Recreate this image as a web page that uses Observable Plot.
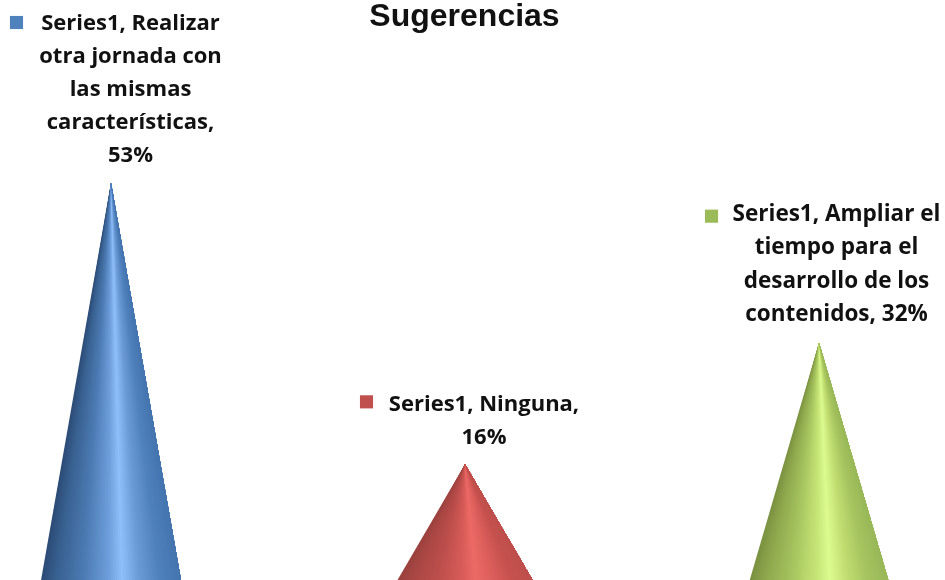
<!DOCTYPE html>
<html>
<head>
<meta charset="utf-8">
<script src="https://cdn.jsdelivr.net/npm/d3@7"></script>
<script src="https://cdn.jsdelivr.net/npm/@observablehq/plot@0.6"></script>
<style>
html,body{margin:0;padding:0;background:#fff;overflow:hidden}
svg{display:block;filter:blur(0.45px)}
</style>
</head>
<body>
<div id="chart"></div>
<script>
const title = "Sugerencias";
const seriesName = "Series1";
const categories = ["Realizar otra jornada con las mismas características", "Ninguna", "Ampliar el tiempo para el desarrollo de los contenidos"];
const values = [53, 16, 32];
const labels = [
  "Series1, Realizar\notra jornada con\nlas mismas\ncaracterísticas,\n53%",
  "Series1, Ninguna,\n16%",
  "Series1, Ampliar el\ntiempo para el\ndesarrollo de los\ncontenidos, 32%"
];
const markerColors = ["#4f81bd", "#c0504d", "#9bbb59"];
const shadeStops = [0, 0.1, 0.3, 0.48, 0.58, 0.7, 0.85, 1];
const blueShades = ["#2c4a75", "#38608f", "#4c7ab2", "#6d9edb", "#8fbffa", "#6b9bd6", "#4f81bd", "#4474ae"];
const redShades = ["#9a403d", "#a84745", "#bd4f4c", "#d85c59", "#ec6a66", "#dc5f5c", "#c6524f", "#bd4f4c"];
const greenShades = ["#7a9040", "#8ca54c", "#a6c45f", "#c6e476", "#dcfb8f", "#c2de72", "#a6c460", "#98b757"];
const shades = [blueShades, redShades, greenShades];

const data = categories.map((category, i) => ({category, value: values[i], label: labels[i], shade: shades[i], color: markerColors[i]}));

// Turn each bar the library has placed into a shaded cone of overlapping wedges.
function coneRender(index, scales, vals, dims, ctx, next) {
  const g = next(index, scales, vals, dims, ctx);
  const ns = "http://www.w3.org/2000/svg";
  const rects = Array.from(g.querySelectorAll("rect"));
  rects.forEach((r, k) => {
    const x = +r.getAttribute("x"), y = +r.getAttribute("y");
    const w = +r.getAttribute("width"), h = +r.getAttribute("height");
    const d = data[index[k]];
    const color = d3.scaleLinear().domain(shadeStops).range(d.shade);
    const n = 70, group = document.createElementNS(ns, "g");
    for (let j = 0; j < n; ++j) {
      const p = document.createElementNS(ns, "polygon");
      p.setAttribute("points", `${x + w / 2},${y} ${x + w * j / n},${y + h} ${x + w},${y + h}`);
      p.setAttribute("fill", color((j + 0.5) / n));
      group.appendChild(p);
    }
    r.replaceWith(group);
  });
  return g;
}

const labelFont = {fontFamily: "'Open Sans'", fontWeight: 700, fill: "#111", lineHeight: 1.49, textAnchor: "middle", lineAnchor: "bottom"};

function annotation(i, labelSize, labelDx, labelDy, markerDx, markerDy) {
  const row = [data[i]];
  return [
    Plot.text(row, {x: "category", y: "value", text: "label", dx: labelDx, dy: labelDy, fontSize: labelSize, ...labelFont}),
    Plot.dot(row, {x: "category", y: "value", symbol: "square", r: 7.4, fill: "color", dx: markerDx, dy: markerDy})
  ];
}

const chart = Plot.plot({
  width: 945,
  height: 580,
  margin: 0,
  style: {background: "#fff"},
  x: {type: "band", domain: categories, range: [-172.9, 1103.1], padding: 0.6, axis: null},
  y: {domain: [0, 53], range: [586, 183], axis: null},
  color: {type: "identity"},
  marks: [
    Plot.barY(data, {x: "category", y: "value", fill: "color", render: coneRender}),
    ...annotation(0, 22, 19, -22, -95, -161),
    ...annotation(1, 22, 18.5, -21, -99, -63),
    ...annotation(2, 22.5, 17, -22, -108, -127),
    Plot.text([title], {x: () => categories[1], frameAnchor: "top", dy: 3, dx: -1, text: d => d, lineAnchor: "top", fontFamily: "'Liberation Sans'", fontWeight: 700, fontSize: 32, fill: "#111"})
  ]
});
document.getElementById("chart").appendChild(chart);
</script>
</body>
</html>
